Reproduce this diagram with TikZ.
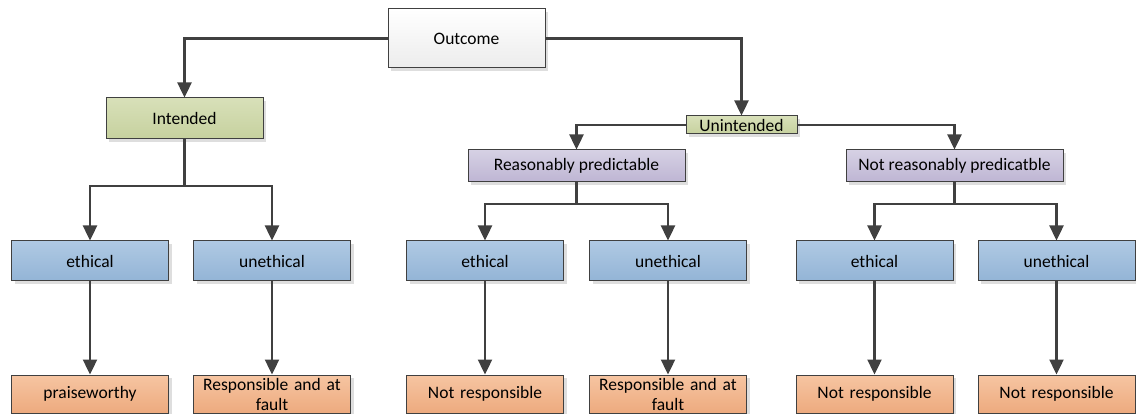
\documentclass[tikz,border=0pt]{standalone}
\usepackage{fontspec}
\setmainfont{Carlito}
\usetikzlibrary{arrows.meta,shadows}
\definecolor{edgec}{HTML}{404040}
\definecolor{gtop}{HTML}{D8E0B9}
\definecolor{gbot}{HTML}{C6D19E}
\definecolor{ptop}{HTML}{D6D1E4}
\definecolor{pbot}{HTML}{BEB5D3}
\definecolor{btop}{HTML}{AFC9E3}
\definecolor{bbot}{HTML}{93B4D6}
\definecolor{otop}{HTML}{F6C5A2}
\definecolor{obot}{HTML}{EDAA7E}
\definecolor{wbot}{HTML}{ECECEC}
\begin{document}
\begin{tikzpicture}[x=1pt,y=-1pt,
  box/.style={draw=edgec, line width=1pt, inner sep=0pt, align=center,
    font=\fontsize{17.5}{20}\selectfont,
    drop shadow={shadow xshift=3pt,shadow yshift=-3pt,fill=black,opacity=0.13}},
  whitebox/.style={box, top color=white, bottom color=wbot, minimum width=157pt, minimum height=59pt},
  greenbox/.style={box, top color=gtop, bottom color=gbot},
  purplebox/.style={box, top color=ptop, bottom color=pbot, minimum width=217pt, minimum height=32pt},
  bluebox/.style={box, top color=btop, bottom color=bbot, minimum width=157pt, minimum height=40pt},
  orangebox/.style={box, top color=otop, bottom color=obot, minimum width=157pt, minimum height=38pt, text width=155pt},
  conn/.style={draw=edgec, line width=2.4pt, -{Triangle[width=14pt,length=15pt]}},
  plain/.style={draw=edgec, line width=2.4pt}
]
\useasboundingbox (0,0) rectangle (1136,414);

\node[whitebox] (outcome) at (466.5,38.5) {Outcome};
\node[greenbox, minimum width=157pt, minimum height=41pt] (intended) at (184.5,118.5) {Intended};
\node[greenbox, minimum width=111pt, minimum height=18pt] (unint) at (741.5,125) {Unintended};
\node[purplebox] (rp) at (576.5,166) {Reasonably predictable};
\node[purplebox] (nrp) at (954.5,166) {Not reasonably predicatble};

\node[bluebox] (e1) at (90,261) {ethical};
\node[bluebox] (u1) at (272,261) {unethical};
\node[bluebox] (e2) at (485,261) {ethical};
\node[bluebox] (u2) at (668,261) {unethical};
\node[bluebox] (e3) at (874.5,261) {ethical};
\node[bluebox] (u3) at (1056.5,261) {unethical};

\node[orangebox] (o1) at (90,394) {praiseworthy};
\node[orangebox] (o2) at (272,394) {Responsible and at\\fault};
\node[orangebox] (o3) at (485,394) {Not responsible};
\node[orangebox] (o4) at (668,394) {Responsible and at\\fault};
\node[orangebox] (o5) at (874.5,394) {Not responsible};
\node[orangebox] (o6) at (1056.5,394) {Not responsible};

\coordinate (r1) at (0,186);
\coordinate (r2) at (0,204);
\coordinate (j1) at (intended.south |- r1);
\coordinate (j2) at (rp.south |- r2);
\coordinate (j3) at (nrp.south |- r2);

\draw[conn] (outcome.west) -| (intended.north);
\draw[conn] (outcome.east) -| (unint.north);
\draw[conn] (unint.west) -| (rp.north);
\draw[conn] (unint.east) -| (nrp.north);

\draw[plain] (intended.south) -- (j1);
\draw[conn] (j1) -| (e1.north);
\draw[conn] (j1) -| (u1.north);
\draw[plain] (rp.south) -- (j2);
\draw[conn] (j2) -| (e2.north);
\draw[conn] (j2) -| (u2.north);
\draw[plain] (nrp.south) -- (j3);
\draw[conn] (j3) -| (e3.north);
\draw[conn] (j3) -| (u3.north);

\draw[conn] (e1) -- (o1);
\draw[conn] (u1) -- (o2);
\draw[conn] (e2) -- (o3);
\draw[conn] (u2) -- (o4);
\draw[conn] (e3) -- (o5);
\draw[conn] (u3) -- (o6);
\end{tikzpicture}
\end{document}
